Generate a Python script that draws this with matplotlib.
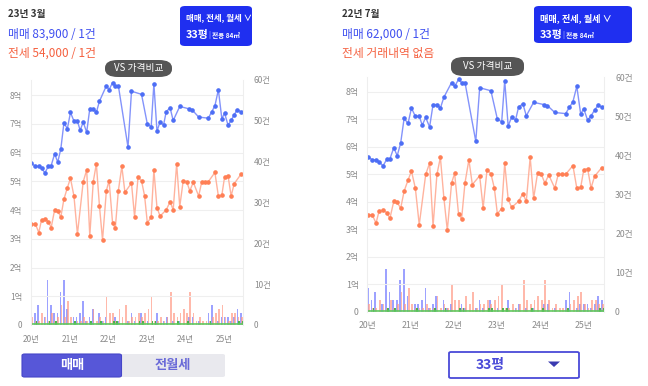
"""아파트 실거래가 차트 (두 화면 캡처) 재현."""

import matplotlib.pyplot as plt
from matplotlib.patches import FancyBboxPatch, Polygon

plt.rcParams["font.family"] = ["Noto Sans CJK KR", "DejaVu Sans"]

W, H = 648, 386

# 매매 실거래가 (연도 소수, 억)
sale_x = [2020.01, 2020.11, 2020.20, 2020.27, 2020.36, 2020.45, 2020.52, 2020.61,
          2020.69, 2020.77, 2020.85, 2020.94, 2021.02, 2021.11, 2021.20, 2021.27,
          2021.35, 2021.44, 2021.52, 2021.61, 2021.69, 2021.77, 2021.95, 2022.02,
          2022.11, 2022.18, 2022.26, 2022.51, 2022.60, 2022.86, 2023.01, 2023.11,
          2023.18, 2023.26, 2023.34, 2023.43, 2023.50, 2023.60, 2023.68, 2023.85,
          2024.08, 2024.17, 2024.34, 2024.59, 2024.68, 2024.76, 2024.85, 2024.94,
          2025.01, 2025.10, 2025.18, 2025.26, 2025.34, 2025.43]
sale_y = [5.64, 5.52, 5.52, 5.45, 5.30, 5.54, 5.55, 5.96, 5.67, 6.13, 7.03, 6.84,
          7.40, 7.10, 7.10, 6.78, 7.06, 6.71, 7.53, 7.53, 7.40, 7.79, 8.33, 8.19,
          8.44, 8.33, 8.33, 6.19, 8.14, 8.03, 7.00, 6.90, 8.40, 6.75, 7.07, 6.96,
          7.43, 7.56, 7.12, 7.61, 7.53, 7.49, 7.24, 7.20, 7.43, 7.63, 8.19, 7.18,
          7.38, 6.96, 7.12, 7.32, 7.50, 7.43]

# 전세 실거래가 (연도 소수, 억)
jeonse_x = [2020.01, 2020.11, 2020.20, 2020.27, 2020.36, 2020.45, 2020.52, 2020.61,
            2020.69, 2020.77, 2020.85, 2020.94, 2021.02, 2021.11, 2021.20, 2021.35,
            2021.44, 2021.52, 2021.61, 2021.69, 2021.77, 2021.85, 2021.95, 2022.02,
            2022.11, 2022.18, 2022.26, 2022.35, 2022.43, 2022.60, 2022.68, 2022.77,
            2022.86, 2022.94, 2023.01, 2023.11, 2023.18, 2023.26, 2023.34, 2023.50,
            2023.60, 2023.68, 2023.77, 2023.85, 2023.94, 2024.03, 2024.11, 2024.20,
            2024.34, 2024.42, 2024.51, 2024.59, 2024.76, 2024.85, 2024.94, 2025.01,
            2025.10, 2025.18, 2025.26, 2025.43]
jeonse_y = [3.52, 3.52, 3.22, 3.66, 3.69, 3.60, 3.39, 4.01, 3.97, 3.76, 4.38, 4.78,
            5.11, 4.49, 3.16, 4.99, 5.40, 3.10, 4.99, 5.61, 4.15, 2.96, 4.68, 5.03,
            3.56, 3.36, 4.68, 5.52, 4.62, 4.94, 3.77, 5.15, 5.02, 4.49, 3.56, 3.75,
            5.40, 4.09, 3.79, 4.01, 4.29, 4.01, 5.61, 4.12, 5.03, 4.99, 4.67, 4.97,
            4.49, 4.99, 4.99, 4.99, 5.31, 4.49, 4.52, 5.15, 5.20, 4.49, 4.92, 5.24]

# 월별 거래 건수 (2020년 1월부터)
sale_cnt = [6, 3, 5, 0, 2, 11, 5, 3, 3, 8, 11, 4, 0, 2, 2, 3, 6, 1, 2, 4, 0, 3,
            1, 2, 0, 0, 2, 1, 0, 0, 1, 3, 1, 0, 3, 0, 1, 0, 0, 3, 0, 1, 2, 0,
            1, 0, 1, 0, 0, 2, 2, 0, 1, 0, 0, 3, 5, 0, 1, 2, 2, 2, 1, 2, 4, 3]
jeonse_cnt = [2, 1, 1, 3, 2, 1, 3, 1, 2, 5, 2, 6, 2, 1, 1, 1, 2, 1, 1, 4, 1, 2,
              1, 7, 3, 3, 1, 4, 2, 5, 1, 2, 2, 3, 2, 3, 4, 7, 1, 1, 2, 1, 2, 8,
              3, 2, 3, 4, 3, 8, 3, 1, 2, 1, 1, 1, 2, 3, 4, 5, 2, 1, 3, 3, 2, 2]
monthly_cnt = [0, 1, 0, 0, 0, 1, 0, 1, 0, 0, 0, 0, 0, 1, 0, 0, 0, 0, 1, 0, 0, 1,
               0, 0, 0, 1, 1, 0, 0, 0, 0, 0, 0, 1, 1, 0, 0, 1, 1, 0, 0, 0, 0, 0,
               0, 1, 0, 0, 1, 0, 0, 0, 0, 0, 0, 1, 0, 0, 0, 0, 0, 0, 0, 0, 1, 1]

year_ticks = [2020, 2021, 2022, 2023, 2024, 2025]
year_labels = ["20년", "21년", "22년", "23년", "24년", "25년"]
price_ticks = [0, 1, 2, 3, 4, 5, 6, 7, 8]
price_labels = ["0", "1억", "2억", "3억", "4억", "5억", "6억", "7억", "8억"]
cnt_ticks = [0, 10, 20, 30, 40, 50, 60]
cnt_labels = ["0", "10건", "20건", "30건", "40건", "50건", "60건"]

BLUE = "#3f4ff0"
RED = "#f5603f"
BOX = "#1f2ff0"
GREY = "#8a8a8a"

fig = plt.figure(figsize=(W / 100, H / 100), dpi=100)


def px_rect(x0, y0, x1, y1):
    """픽셀 좌표(위 기준) -> figure 좌표."""
    return [x0 / W, 1 - y1 / H, (x1 - x0) / W, (y1 - y0) / H]


def fx(x):
    return x / W


def fy(y):
    return 1 - y / H


def draw_chart(rect, fs):
    ax = fig.add_axes(rect)
    ax2 = ax.twinx()
    ax.set_zorder(2)
    ax.patch.set_visible(False)

    months = [2020 + (i + 0.15) / 12 for i in range(len(sale_cnt))]
    w = 0.5 / 12
    ax2.bar(months, sale_cnt, width=w, color="#7d83ff", alpha=0.75)
    ax2.bar([m + 0.3 / 12 for m in months], jeonse_cnt, width=w,
            color="#ff9c88", alpha=0.7)
    ax2.bar([m + 0.55 / 12 for m in months], monthly_cnt, width=w,
            color="#3cb043", alpha=0.9)
    ax2.axhline(0.15, color="#5cc85c", lw=1.2)
    ax2.set_ylim(0, 60)
    ax2.set_yticks(cnt_ticks, cnt_labels)

    ax.plot(sale_x, sale_y, color="#8393fb", lw=1.0, marker="o", ms=2.3,
            mfc="#4d6ef5", mec="#4d6ef5")
    ax.plot(jeonse_x, jeonse_y, color="#ffb39e", lw=1.0, marker="o", ms=2.3,
            mfc="#ff7f55", mec="#ff7f55")
    ax.set_ylim(0, 8.53)
    ax.set_xlim(2019.99, 2025.48)
    ax.set_yticks(price_ticks, price_labels)
    ax.set_xticks(year_ticks, year_labels)
    ax.grid(axis="y", color="#efefef", lw=0.8)
    ax.set_axisbelow(True)

    for a in (ax, ax2):
        for s in a.spines.values():
            s.set_visible(False)
        a.tick_params(length=0, labelsize=fs, labelcolor=GREY)
    ax.spines["left"].set_visible(True)
    ax.spines["left"].set_color("#eeeeee")
    ax.spines["right"].set_visible(True)
    ax.spines["right"].set_color("#eeeeee")
    ax.tick_params(axis="y", pad=6)
    ax.tick_params(axis="x", pad=7)
    ax2.tick_params(axis="y", pad=8)
    return ax


def pill(x0, y0, x1, y1, fs):
    fig.patches.append(FancyBboxPatch(
        (fx(x0), fy(y1)), fx(x1) - fx(x0), fy(y0) - fy(y1),
        boxstyle="round,pad=0,rounding_size=0.02", transform=fig.transFigure,
        fc="#555555", ec="none", zorder=10))
    fig.text(fx((x0 + x1) / 2), fy((y0 + y1) / 2), "VS 가격비교", color="white",
             fontsize=fs, ha="center", va="center", zorder=11)


def type_box(x0, y0, x1, y1, fs):
    fig.patches.append(FancyBboxPatch(
        (fx(x0), fy(y1)), fx(x1) - fx(x0), fy(y0) - fy(y1),
        boxstyle="round,pad=0,rounding_size=0.008", transform=fig.transFigure,
        fc=BOX, ec="none", zorder=10))
    fig.text(fx(x0 + 6), fy(y0 + 12), "매매, 전세, 월세 ∨", color="white",
             fontsize=fs, fontweight="bold", va="center", zorder=11)
    fig.text(fx(x0 + 6), fy(y0 + 29), "33평", color="white",
             fontsize=7.8, fontweight="bold", va="center", zorder=11)
    fig.text(fx(x0 + 28), fy(y0 + 29), "|", color="#b0b8ff",
             fontsize=5, va="center", zorder=11)
    fig.text(fx(x0 + 32), fy(y0 + 29.5), "전용 84㎡", color="white",
             fontsize=4.8, fontweight="bold", va="center", zorder=11)


# 왼쪽 화면
draw_chart(px_rect(30.7, 80, 242.7, 325), 6)
fig.text(fx(8), fy(14), "23년 3월", fontsize=7, fontweight="bold",
         color="#333333", va="center")
fig.text(fx(8), fy(34), "매매 83,900 / 1건", fontsize=8.5, color=BLUE,
         va="center")
fig.text(fx(8), fy(53), "전세 54,000 / 1건", fontsize=8.5, color=RED,
         va="center")
type_box(180, 6, 252, 46, 6.1)
pill(105, 60, 172, 77, 7)

fig.patches.append(FancyBboxPatch(
    (fx(22), fy(377)), fx(225) - fx(22), fy(354) - fy(377),
    boxstyle="round,pad=0,rounding_size=0.004", transform=fig.transFigure,
    fc="#e9e9ee", ec="none"))
fig.patches.append(FancyBboxPatch(
    (fx(22), fy(377)), fx(121.5) - fx(22), fy(354) - fy(377),
    boxstyle="round,pad=0,rounding_size=0.004", transform=fig.transFigure,
    fc="#5757d8", ec="#4646c8", lw=0.8))
fig.text(fx(72), fy(365.5), "매매", color="white", fontsize=9.5,
         fontweight="bold", ha="center", va="center")
fig.text(fx(173), fy(365.5), "전월세", color="#6a6ad8", fontsize=9.5,
         fontweight="bold", ha="center", va="center")

# 오른쪽 화면
draw_chart(px_rect(367, 77, 604, 311.7), 6.3)
fig.text(fx(342), fy(14), "22년 7월", fontsize=7, fontweight="bold",
         color="#333333", va="center")
fig.text(fx(342), fy(34), "매매 62,000 / 1건", fontsize=8.5, color=BLUE,
         va="center")
fig.text(fx(342), fy(53), "전세 거래내역 없음", fontsize=8.5, color=RED,
         va="center")
type_box(534, 6, 632, 43, 6.6)
pill(451, 57, 524, 76, 7)

fig.patches.append(FancyBboxPatch(
    (fx(449), fy(378)), fx(579) - fx(449), fy(352) - fy(378),
    boxstyle="round,pad=0,rounding_size=0.003", transform=fig.transFigure,
    fc="white", ec="#4a4ad8", lw=1.3))
fig.text(fx(490), fy(365), "33평", color="#4a4ad8", fontsize=10,
         fontweight="bold", ha="center", va="center")
fig.patches.append(Polygon(
    [(fx(548), fy(361.5)), (fx(560), fy(361.5)), (fx(554), fy(367))],
    closed=True, transform=fig.transFigure, fc="#3a3ab0", ec="none"))

fig.savefig("out.png", dpi=100)
